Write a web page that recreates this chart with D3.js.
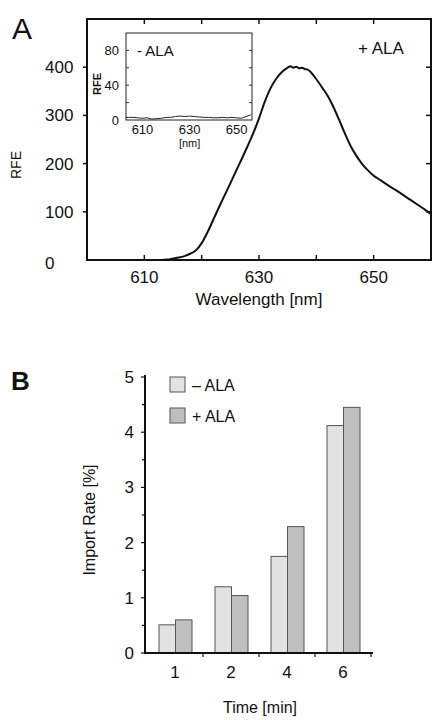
<!DOCTYPE html>
<html>
<head>
<meta charset="utf-8">
<script src="https://cdn.jsdelivr.net/npm/d3@7"></script>
<style>
    body { margin: 0; background: #fff; }
    svg { display: block; font-family: "Liberation Sans", Arial, sans-serif; }
    text { fill: #111; }
</style>
</head>
<body>
<svg id="svg-main" width="432" height="720"></svg>
<script>
// panel A, + ALA spectrum
var wavelengthPlus = [600, 602, 604, 606, 608, 610, 612, 613, 614, 615, 616, 617, 618, 619, 620, 621, 622, 623, 624, 625,
    626, 627, 628, 629, 630, 631, 632, 633, 634, 635, 635.5, 636, 636.5, 637, 637.5, 638, 638.5, 639,
    640, 641, 642, 643, 644, 645, 646, 647, 648, 649, 650, 651, 652, 653, 654, 655, 656, 657, 658, 659, 660];
var rfePlus = [0, 0, 0, 0, 0, 0, 0, 0, 1, 3, 5, 8, 13, 20, 35, 57, 83, 109, 134, 159,
    185, 210, 236, 263, 294, 328, 356, 376, 390, 399, 402, 399, 401, 398, 399, 396, 395, 390,
    375, 358, 340, 317, 290, 262, 236, 216, 199, 186, 175, 167, 159, 151, 144, 136, 128, 120, 112, 104, 95];

// inset, - ALA spectrum
var wavelengthMinus = [603, 604, 606, 608, 610, 612, 614, 616, 618, 620, 622, 624, 626, 628, 630, 632, 634, 636,
    638, 640, 642, 644, 646, 648, 650, 652, 654, 656];
var rfeMinus = [3, 3, 3, 2.5, 2, 2.5, 1, 1.5, 2, 3, 3, 4, 4.5, 4, 4.5, 4, 3.5, 3, 3, 2.5, 2.5, 3, 2.5, 3, 2.5, 2, 4, 6];

// panel B, import rate
var times = ["1", "2", "4", "6"];
var series = ["– ALA", "+ ALA"];
var rateMinus = [0.51, 1.2, 1.75, 4.12];
var ratePlus = [0.6, 1.04, 2.29, 4.45];

var mainTicksX = [610, 630, 650];
var mainTicksY = [0, 100, 200, 300, 400];
var insetTicksX = [610, 630, 650];
var insetTicksY = [0, 40, 80];

var svg = d3.select("svg");

// ---------- panel A ----------
var x = d3.scaleLinear().domain([600, 660]).range([87, 431]);
var y = d3.scaleLinear().domain([0, 500]).range([260, 19]);

var gA = svg.append("g");

// frame
gA.append("rect")
    .attr("x", x(600)).attr("y", y(500))
    .attr("width", x(660) - x(600)).attr("height", y(0) - y(500))
    .attr("fill", "none").attr("stroke", "#111").attr("stroke-width", 2);

// minor ticks along x, top and bottom, pointing inward
d3.range(610, 660, 10).forEach(function (v) {
    gA.append("line").attr("x1", x(v)).attr("x2", x(v))
        .attr("y1", y(0)).attr("y2", y(0) - 5).attr("stroke", "#111").attr("stroke-width", 1.5);
    gA.append("line").attr("x1", x(v)).attr("x2", x(v))
        .attr("y1", y(500)).attr("y2", y(500) + 5).attr("stroke", "#111").attr("stroke-width", 1.5);
});

mainTicksY.forEach(function (v) {
    if (v > 0) {
        gA.append("line").attr("x1", x(600) - 4).attr("x2", x(600))
            .attr("y1", y(v)).attr("y2", y(v)).attr("stroke", "#111").attr("stroke-width", 1.5);
        gA.append("line").attr("x1", x(660) - 5).attr("x2", x(660))
            .attr("y1", y(v)).attr("y2", y(v)).attr("stroke", "#111").attr("stroke-width", 1.5);
    }
    gA.append("text")
        .attr("x", 45).attr("y", y(v) + (v === 0 ? 9 : 6))
        .attr("font-size", 17)
        .text(v);
});

mainTicksX.forEach(function (v) {
    gA.append("text")
        .attr("x", x(v)).attr("y", 283)
        .attr("text-anchor", "middle").attr("font-size", 17)
        .text(v);
});

gA.append("text")
    .attr("x", 259).attr("y", 305)
    .attr("text-anchor", "middle").attr("font-size", 17)
    .text("Wavelength [nm]");

gA.append("text")
    .attr("transform", "translate(21,165) rotate(-90)")
    .attr("text-anchor", "middle").attr("font-size", 14)
    .text("RFE");

gA.append("text")
    .attr("x", 12).attr("y", 39).attr("font-size", 30)
    .text("A");

gA.append("text")
    .attr("x", 358).attr("y", 54).attr("font-size", 17)
    .text("+ ALA");

var linePlus = d3.line()
    .x(function (d, i) { return x(wavelengthPlus[i]); })
    .y(function (d) { return y(d); })
    .curve(d3.curveMonotoneX);

gA.append("path")
    .datum(rfePlus)
    .attr("d", linePlus)
    .attr("fill", "none").attr("stroke", "#111").attr("stroke-width", 2)
    .attr("stroke-linejoin", "round");

// ---------- inset ----------
var xi = d3.scaleLinear().domain([603, 656.5]).range([126, 252]);
var yi = d3.scaleLinear().domain([0, 100]).range([120, 33]);

var gI = svg.append("g");

gI.append("rect")
    .attr("x", xi(603)).attr("y", yi(100))
    .attr("width", xi(656.5) - xi(603)).attr("height", yi(0) - yi(100))
    .attr("fill", "#fff").attr("stroke", "#222").attr("stroke-width", 1);

d3.range(20, 100, 20).forEach(function (v) {
    gI.append("line").attr("x1", xi(603)).attr("x2", xi(603) + 3)
        .attr("y1", yi(v)).attr("y2", yi(v)).attr("stroke", "#333");
    gI.append("line").attr("x1", xi(656.5) - 3).attr("x2", xi(656.5))
        .attr("y1", yi(v)).attr("y2", yi(v)).attr("stroke", "#333");
});

insetTicksY.forEach(function (v) {
    gI.append("text")
        .attr("x", 119).attr("y", yi(v) + 5)
        .attr("text-anchor", "end").attr("font-size", 13)
        .text(v);
});

insetTicksX.forEach(function (v) {
    gI.append("text")
        .attr("x", xi(v)).attr("y", 134)
        .attr("text-anchor", "middle").attr("font-size", 13)
        .text(v);
});

gI.append("text")
    .attr("x", xi(630)).attr("y", 147)
    .attr("text-anchor", "middle").attr("font-size", 11)
    .text("[nm]");

gI.append("text")
    .attr("transform", "translate(101,84) rotate(-90)")
    .attr("text-anchor", "middle").attr("font-size", 11).attr("font-weight", "bold")
    .text("RFE");

gI.append("text")
    .attr("x", 137).attr("y", 56).attr("font-size", 15)
    .text("- ALA");

var lineMinus = d3.line()
    .x(function (d, i) { return xi(wavelengthMinus[i]); })
    .y(function (d) { return yi(d); });

gI.append("path")
    .datum(rfeMinus)
    .attr("d", lineMinus)
    .attr("fill", "none").attr("stroke", "#222").attr("stroke-width", 1);

// ---------- panel B ----------
var x0 = d3.scaleBand().domain(times).range([147, 371]);
var x1 = d3.scaleBand().domain(series).range([12, 45]);
var yb = d3.scaleLinear().domain([0, 5]).range([653, 377]);
var fills = ["#e2e2e2", "#bfbfbf"];

var gB = svg.append("g");

gB.append("text")
    .attr("x", 11).attr("y", 390).attr("font-size", 26).attr("font-weight", "bold")
    .text("B");

times.forEach(function (t, i) {
    [rateMinus[i], ratePlus[i]].forEach(function (v, j) {
        gB.append("rect")
            .attr("x", x0(t) + x1(series[j]))
            .attr("y", yb(v))
            .attr("width", x1.bandwidth())
            .attr("height", yb(0) - yb(v))
            .attr("fill", fills[j]).attr("stroke", "#555").attr("stroke-width", 1);
    });
    gB.append("text")
        .attr("x", x0(t) + x0.bandwidth() / 2).attr("y", 678)
        .attr("text-anchor", "middle").attr("font-size", 17)
        .text(t);
});

// axes
gB.append("line").attr("x1", 145).attr("x2", 145).attr("y1", 375).attr("y2", 654)
    .attr("stroke", "#111").attr("stroke-width", 2);
gB.append("line").attr("x1", 144).attr("x2", 373).attr("y1", 653).attr("y2", 653)
    .attr("stroke", "#111").attr("stroke-width", 2);

d3.range(0, 5.01, 0.5).forEach(function (v) {
    var major = Math.round(v) === v;
    gB.append("line").attr("x1", 145 - (major ? 4 : 3)).attr("x2", 145)
        .attr("y1", yb(v)).attr("y2", yb(v)).attr("stroke", "#111").attr("stroke-width", 1.2);
    if (major) {
        gB.append("text")
            .attr("x", 134).attr("y", yb(v) + 6)
            .attr("text-anchor", "end").attr("font-size", 17)
            .text(v);
    }
});

times.forEach(function (t) {
    var xx = x0(t) + x0.bandwidth();
    gB.append("line").attr("x1", xx).attr("x2", xx).attr("y1", 653).attr("y2", 657)
        .attr("stroke", "#111").attr("stroke-width", 1.2);
});

gB.append("text")
    .attr("transform", "translate(95,520) rotate(-90)")
    .attr("text-anchor", "middle").attr("font-size", 16)
    .text("Import Rate [%]");

gB.append("text")
    .attr("x", 260).attr("y", 713)
    .attr("text-anchor", "middle").attr("font-size", 16)
    .text("Time [min]");

// legend
series.forEach(function (s, j) {
    gB.append("rect")
        .attr("x", 170).attr("y", 377 + j * 31)
        .attr("width", 15).attr("height", 15)
        .attr("fill", fills[j]).attr("stroke", "#555").attr("stroke-width", 1);
    gB.append("text")
        .attr("x", 192).attr("y", 391 + j * 31)
        .attr("font-size", 16)
        .text(s);
});
</script>
</body>
</html>
